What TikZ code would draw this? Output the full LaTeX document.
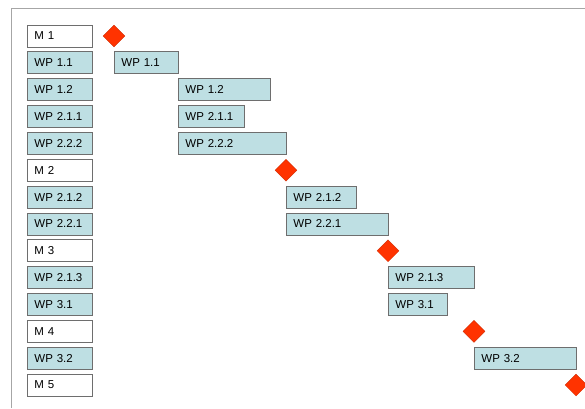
\documentclass[tikz,border=0pt]{standalone}
\usepackage{fontspec}
\setmainfont{Liberation Sans}
\usetikzlibrary{shapes.geometric}

\definecolor{wpfill}{HTML}{BEDFE3}
\definecolor{boxline}{HTML}{6E6E6E}
\definecolor{msred}{HTML}{FF3300}

\begin{document}
\begin{tikzpicture}[x=1pt,y=-1pt,
  box/.style={draw=boxline, line width=0.9pt, anchor=west, minimum height=22pt,
    inner xsep=7pt, inner ysep=0pt, align=left, font=\fontsize{11.5}{13}\selectfont},
  wp/.style={box, fill=wpfill},
  ms/.style={box, fill=white},
  milestone/.style={diamond, fill=msred, draw=msred!80!black, line width=0.3pt,
    minimum width=22pt, minimum height=22pt, inner sep=0pt}]
\useasboundingbox (0,0) rectangle (585,408);

% frame
\draw[gray!70] (11,408) -- (11,8) -- (585,8);

% task list on the left
\foreach \lab/\sty [count=\i from 0] in {M 1/ms, WP 1.1/wp, WP 1.2/wp,
    WP 2.1.1/wp, WP 2.2.2/wp, M 2/ms, WP 2.1.2/wp, WP 2.2.1/wp, M 3/ms,
    WP 2.1.3/wp, WP 3.1/wp, M 4/ms, WP 3.2/wp, M 5/ms}
  \node[\sty, text width=51pt] (lab\i) at (27,{36+26.85*\i}) {\lab};

% work package bars
\foreach \r/\s/\e/\lab in {1/114/178/WP 1.1, 2/178/270/WP 1.2,
    3/178/244/WP 2.1.1, 4/178/286/WP 2.2.2, 6/286/356/WP 2.1.2,
    7/286/388/WP 2.2.1, 9/388/474/WP 2.1.3, 10/388/447/WP 3.1,
    12/474/576/WP 3.2}
{
  \pgfmathsetmacro\w{\e-\s-14}
  \node[wp, text width=\w pt] (bar\r) at (\s,{36+26.85*\r}) {\lab};
}

% milestones
\foreach \r/\x in {0/114, 5/286, 8/388, 11/474, 13/576}
  \node[milestone] (ms\r) at (\x,{36+26.85*\r}) {};

\end{tikzpicture}
\end{document}
